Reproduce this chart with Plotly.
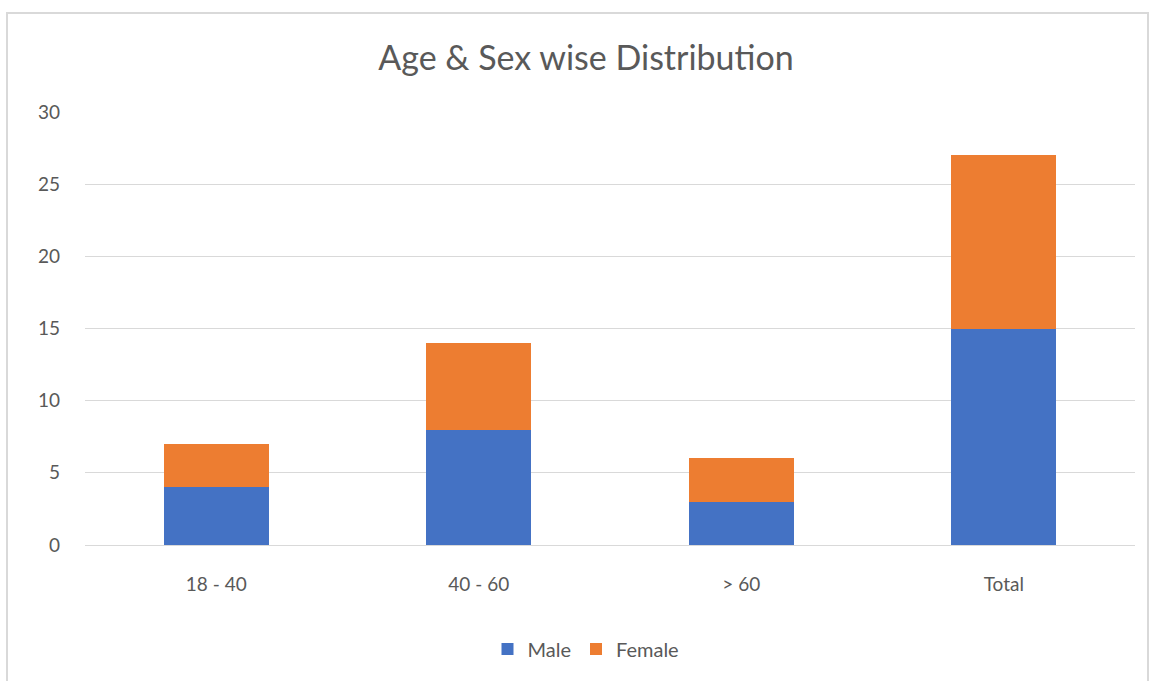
import plotly.graph_objects as go

# Age groups and counts per sex
categories = ["18 - 40", "40 - 60", "> 60", "Total"]
male = [4, 8, 3, 15]
female = [3, 6, 3, 12]

W, H = 1149, 681
L, R, T, B = 85, 14, 112, 136
pw, ph = W - L - R, H - T - B

def px_x(x):
    return (x - L) / pw

def px_y(y):
    return (H - B - y) / ph

font_family = "Lato, 'Open Sans', sans-serif"
text_color = "#595959"

fig = go.Figure()
fig.add_trace(go.Bar(name="Male", x=categories, y=male, marker_color="#4472C4",
                     marker_line_width=0))
fig.add_trace(go.Bar(name="Female", x=categories, y=female, marker_color="#ED7D31",
                     marker_line_width=0))

fig.update_layout(
    width=W, height=H,
    barmode="stack",
    bargap=0.6,
    paper_bgcolor="white",
    plot_bgcolor="white",
    margin=dict(l=L, r=R, t=T, b=B, pad=0),
    font=dict(family=font_family, color=text_color, size=19),
    title=dict(text="Age & Sex wise Distribution", x=px_x(586), xref="paper",
               xanchor="center", y=1 - 58 / H, yanchor="middle",
               font=dict(size=34, color=text_color, family=font_family)),
    legend=dict(orientation="h", x=px_x(586), xanchor="center",
                y=px_y(649), yanchor="middle", font=dict(size=20, color=text_color),
                itemwidth=30, traceorder="normal"),
    yaxis=dict(range=[0, 30], dtick=5, showgrid=True, gridcolor="#D9D9D9",
               gridwidth=1, zeroline=True, zerolinecolor="#D9D9D9", zerolinewidth=1,
               showline=False, ticks="", ticklabelstandoff=24,
               tickfont=dict(size=19, color=text_color)),
    xaxis=dict(showgrid=False, showline=False, ticks="", ticklabelstandoff=26,
               tickfont=dict(size=19, color=text_color)),
    shapes=[dict(type="rect", xref="paper", yref="paper",
                 x0=px_x(7), x1=px_x(1148), y0=px_y(700), y1=px_y(13),
                 line=dict(color="#D9D9D9", width=2), fillcolor="rgba(0,0,0,0)",
                 layer="below")],
)

fig.write_html("out.html")
